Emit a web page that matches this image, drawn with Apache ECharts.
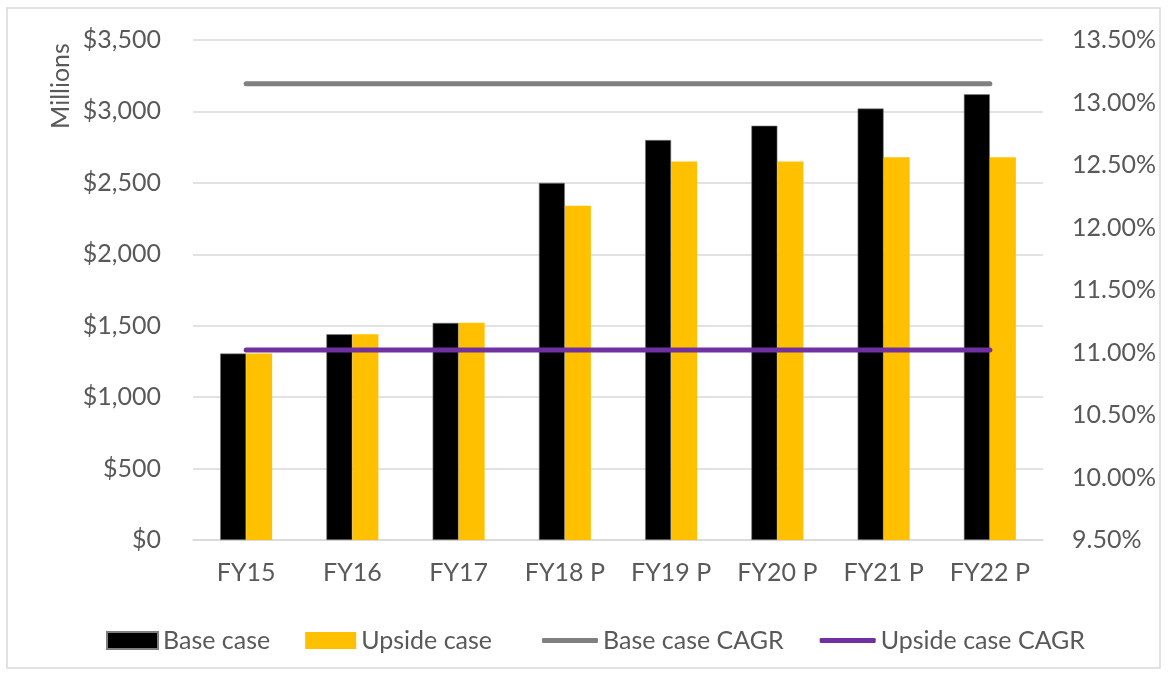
<!DOCTYPE html>
<html>
<head>
<meta charset="utf-8">
<script src="https://cdn.jsdelivr.net/npm/echarts@6/dist/echarts.min.js"></script>
<style>
  html, body { margin: 0; padding: 0; background: #fff; }
  #chart { width: 1168px; height: 675px; }
</style>
</head>
<body>
<div id="chart"></div>
<script>
// data
const years = ['FY15', 'FY16', 'FY17', 'FY18 P', 'FY19 P', 'FY20 P', 'FY21 P', 'FY22 P'];
const baseCase = [1305, 1440, 1520, 2500, 2800, 2900, 3020, 3120];
const upsideCase = [1305, 1440, 1520, 2340, 2650, 2650, 2680, 2680];
const baseCagr = [13.15, 13.15, 13.15, 13.15, 13.15, 13.15, 13.15, 13.15];
const upsideCagr = [11.02, 11.02, 11.02, 11.02, 11.02, 11.02, 11.02, 11.02];

const FONT = 'Lato';
const GREY_TEXT = '#595959';

const chart = echarts.init(document.getElementById('chart'));

const legendText = { color: GREY_TEXT, fontSize: 25, fontFamily: FONT };

chart.setOption({
  backgroundColor: '#fff',
  animation: false,
  textStyle: { fontFamily: FONT },
  graphic: [
    {
      type: 'rect',
      shape: { x: 7, y: 8, width: 1153, height: 660 },
      style: { fill: 'none', stroke: '#d9d9d9', lineWidth: 1.5 },
      silent: true
    },
    {
      type: 'text',
      x: 61,
      y: 86,
      rotation: Math.PI / 2,
      style: {
        text: 'Millions',
        fill: GREY_TEXT,
        font: '25px ' + FONT,
        align: 'center',
        verticalAlign: 'middle'
      }
    }
  ],
  grid: {
    left: 193,
    right: 125,
    top: 40,
    bottom: 135
  },
  // two legends: bar swatches and line swatches have different heights
  legend: [
    {
      left: 101,
      top: 623,
      itemWidth: 51,
      itemHeight: 17,
      itemGap: 35,
      icon: 'rect',
      textStyle: legendText,
      data: ['Base case', 'Upside case']
    },
    {
      left: 537,
      top: 623,
      itemWidth: 56,
      itemHeight: 5,
      itemGap: 36,
      icon: 'roundRect',
      textStyle: legendText,
      data: ['Base case CAGR', 'Upside case CAGR']
    }
  ],
  xAxis: {
    type: 'category',
    data: years,
    axisLine: { lineStyle: { color: '#d9d9d9', width: 1.5 } },
    axisTick: { show: false },
    axisLabel: { color: GREY_TEXT, fontSize: 25, margin: 20 }
  },
  yAxis: [
    {
      type: 'value',
      min: 0,
      max: 3500,
      interval: 500,
      axisLine: { show: false },
      axisTick: { show: false },
      splitLine: { lineStyle: { color: '#d9d9d9', width: 1.5 } },
      axisLabel: {
        color: GREY_TEXT,
        fontSize: 25,
        margin: 32,
        formatter: v => '$' + v.toLocaleString('en-US')
      }
    },
    {
      type: 'value',
      min: 9.5,
      max: 13.5,
      interval: 0.5,
      position: 'right',
      axisLine: { show: false },
      axisTick: { show: false },
      splitLine: { show: false },
      axisLabel: {
        color: GREY_TEXT,
        fontSize: 25,
        margin: 29,
        formatter: v => v.toFixed(2) + '%'
      }
    }
  ],
  series: [
    {
      name: 'Base case',
      type: 'bar',
      data: baseCase,
      barWidth: 26,
      barGap: '0%',
      itemStyle: { color: '#000000', borderColor: '#7f7f7f', borderWidth: 0.6 }
    },
    {
      name: 'Upside case',
      type: 'bar',
      data: upsideCase,
      barWidth: 26,
      itemStyle: { color: '#FFC000' }
    },
    {
      name: 'Base case CAGR',
      type: 'line',
      yAxisIndex: 1,
      data: baseCagr,
      symbol: 'none',
      lineStyle: { color: '#808080', width: 5, cap: 'round' },
      itemStyle: { color: '#808080' }
    },
    {
      name: 'Upside case CAGR',
      type: 'line',
      yAxisIndex: 1,
      data: upsideCagr,
      symbol: 'none',
      lineStyle: { color: '#7030A0', width: 5, cap: 'round' },
      itemStyle: { color: '#7030A0' }
    }
  ]
});
</script>
</body>
</html>
